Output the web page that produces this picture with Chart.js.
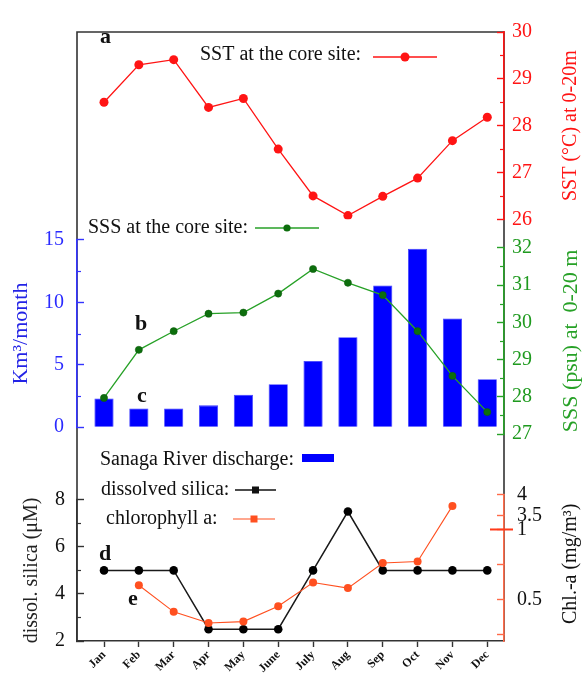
<!DOCTYPE html>
<html>
<head>
<meta charset="utf-8">
<script src="https://cdn.jsdelivr.net/npm/chart.js@4.4.1/dist/chart.umd.min.js"></script>
<style>
  html, body { margin: 0; padding: 0; background: #fff; }
  canvas { display: block; }
</style>
</head>
<body>
<canvas id="chart" width="586" height="677"></canvas>
<script>
// Monthly values at the core site
const months = ['Jan', 'Feb', 'Mar', 'Apr', 'May', 'June', 'July', 'Aug', 'Sep', 'Oct', 'Nov', 'Dec'];
const sstValues = [28.5, 29.3, 29.41, 28.39, 28.58, 27.5, 26.5, 26.08, 26.49, 26.88, 27.68, 28.18];
const sssValues = [27.97, 29.26, 29.76, 30.23, 30.26, 30.77, 31.43, 31.06, 30.73, 29.76, 28.56, 27.59];
const dischargeValues = [2.3, 1.5, 1.5, 1.75, 2.6, 3.45, 5.3, 7.2, 11.35, 14.3, 8.7, 3.85];
const silicaValues = [5, 5, 5, 2.5, 2.5, 2.5, 5, 7.5, 5, 5, 5, 5];
const chlValues = [null, 0.60, 0.41, 0.33, 0.34, 0.45, 0.62, 0.58, 0.76, 0.77, 3.73, null];

// Axis ticks
const sstTicks = [26, 27, 28, 29, 30];
const sssTicks = [27, 28, 29, 30, 31, 32];
const dischargeTicks = [0, 5, 10, 15];
const silicaTicks = [2, 4, 6, 8];
const chlTicks = [0.25, 0.5, 0.75, 1, 3.5, 4];
const chlTickLabels = ['', '0.5', '', '1', '3.5', '4'];

// The Chl-a axis is broken between 1 and 3.5; values above the break are compressed.
function chlToAxis(v) { return v <= 2 ? v : 1.1 + (v - 3.5) * 0.3; }

const SERIF = '"Liberation Serif", "Times New Roman", serif';
const RED = '#ff1414';
const GREEN = '#27a127';
const BLUE = '#3434ff';
const ORANGE = '#ff5020';
const CHL_AXIS = '#ff6a48';
const DARK = '#333';

const pts = (arr, f = v => v) => arr.map((v, i) => (v == null ? null : { x: i, y: f(v) })).filter(Boolean);
const setTicks = list => scale => { scale.ticks = list.map(v => ({ value: v })); };
const leftW = s => { s.width = 77; };
const rightW = s => { s.width = 82; };

function yAxis(opts) {
  const side = opts.position;
  return {
    type: 'linear',
    position: side,
    stack: side,
    stackWeight: opts.stackWeight,
    weight: opts.weight,
    min: opts.min,
    max: opts.max,
    afterFit: side === 'left' ? leftW : rightW,
    afterBuildTicks: opts.ticks ? setTicks(opts.ticks) : undefined,
    border: { display: !!opts.color, color: opts.color, width: 1.6 },
    grid: { display: !!opts.ticks, drawOnChartArea: false, drawTicks: true, tickLength: -7, tickColor: opts.color, tickWidth: 1.4 },
    ticks: {
      display: !!opts.ticks,
      autoSkip: false,
      padding: opts.pad,
      color: opts.labelColor,
      font: { family: SERIF, size: 20 },
      callback: opts.callback || (v => String(v))
    },
    title: opts.title || { display: false }
  };
}

const spacer = (position, stackWeight, weight) => yAxis({ position, stackWeight, weight });

const frame = {
  id: 'frame',
  beforeDraw(chart) {
    const { ctx, chartArea: a } = chart;
    ctx.save();
    ctx.strokeStyle = DARK;
    ctx.lineWidth = 1.6;
    ctx.beginPath();
    ctx.moveTo(a.left, a.bottom);
    ctx.lineTo(a.left, a.top);
    ctx.lineTo(a.right, a.top);
    ctx.lineTo(a.right, a.bottom);
    ctx.stroke();
    ctx.restore();
  }
};

// Short minor ticks halfway between the major ones, pointing into the plot
const minorTicks = {
  id: 'minorTicks',
  afterDraw(chart) {
    const { ctx } = chart;
    const specs = [
      ['ySST', sstTicks, RED, 1],
      ['ySSS', sssTicks, GREEN, 1],
      ['yQ', dischargeTicks, BLUE, -1],
      ['ySi', silicaTicks, DARK, -1]
    ];
    ctx.save();
    ctx.lineWidth = 1.2;
    for (const [id, ticks, color, dir] of specs) {
      const s = chart.scales[id];
      const x0 = dir > 0 ? s.left : s.right;
      ctx.strokeStyle = color;
      for (let i = 0; i < ticks.length - 1; i++) {
        const y = Math.round(s.getPixelForValue((ticks[i] + ticks[i + 1]) / 2)) + 0.5;
        ctx.beginPath();
        ctx.moveTo(x0, y);
        ctx.lineTo(x0 - dir * 4, y);
        ctx.stroke();
      }
    }
    // break mark on the Chl-a axis
    const c = chart.scales.yChl;
    const yb = c.getPixelForValue(1);
    ctx.strokeStyle = '#ff3a1a';
    ctx.lineWidth = 2;
    ctx.beginPath();
    ctx.moveTo(c.left - 14, yb);
    ctx.lineTo(c.left + 9, yb);
    ctx.stroke();
    ctx.restore();
  }
};

// Right-hand axis titles read bottom-to-top
const rightTitles = {
  id: 'rightTitles',
  afterDraw(chart) {
    const { ctx } = chart;
    const items = [
      ['ySST', 'SST (°C) at 0-20m', RED, 20, 0],
      ['ySSS', 'SSS (psu) at  0-20 m', GREEN, 22, 0],
      ['yChl', 'Chl.-a (mg/m³)', '#111', 20, -4]
    ];
    ctx.save();
    for (const [id, text, color, size, dy] of items) {
      const s = chart.scales[id];
      ctx.save();
      ctx.translate(571, (s.top + s.bottom) / 2 + dy);
      ctx.rotate(-Math.PI / 2);
      ctx.font = size + 'px ' + SERIF;
      ctx.fillStyle = color;
      ctx.textAlign = 'center';
      ctx.textBaseline = 'middle';
      ctx.fillText(text, 0, 0);
      ctx.restore();
    }
    ctx.restore();
  }
};

// In-plot legend entries and panel letters
const annotations = {
  id: 'annotations',
  afterDraw(chart) {
    const { ctx } = chart;
    ctx.save();
    ctx.textBaseline = 'alphabetic';
    ctx.textAlign = 'left';
    ctx.font = '20px ' + SERIF;
    ctx.fillStyle = '#111';
    ctx.fillText('SST at the core site:', 200, 60);
    ctx.fillText('SSS at the core site:', 88, 233);
    ctx.fillText('Sanaga River discharge:', 100, 465);
    ctx.fillText('dissolved silica:', 101, 495);
    ctx.fillText('chlorophyll a:', 106, 524);

    const sample = (x1, x2, y, color, width, marker, r, fill) => {
      ctx.strokeStyle = color;
      ctx.lineWidth = width;
      ctx.beginPath();
      ctx.moveTo(x1, y);
      ctx.lineTo(x2, y);
      ctx.stroke();
      ctx.fillStyle = fill || color;
      const xm = (x1 + x2) / 2;
      if (marker === 'circle') {
        ctx.beginPath();
        ctx.arc(xm, y, r, 0, Math.PI * 2);
        ctx.fill();
      } else {
        ctx.fillRect(xm - r, y - r, 2 * r, 2 * r);
      }
    };
    sample(373, 437, 57, RED, 1.4, 'circle', 4.5);
    sample(255, 319, 228, GREEN, 1.4, 'circle', 3.6, '#0d6e0d');
    sample(235, 276, 490, '#111', 1.6, 'rect', 3.5);
    sample(233, 275, 519, ORANGE, 1.2, 'rect', 3.5);
    ctx.fillStyle = '#0000ff';
    ctx.fillRect(302, 454, 32, 8);

    ctx.font = 'bold 22px ' + SERIF;
    ctx.fillStyle = '#111';
    ctx.fillText('a', 100, 43);
    ctx.fillText('b', 135, 330);
    ctx.fillText('c', 137, 402);
    ctx.fillText('d', 99, 560);
    ctx.fillText('e', 128, 605);
    ctx.restore();
  }
};

new Chart(document.getElementById('chart'), {
  type: 'line',
  data: {
    datasets: [
      {
        label: 'SST at the core site',
        data: pts(sstValues),
        yAxisID: 'ySST',
        borderColor: RED,
        backgroundColor: RED,
        borderWidth: 1.3,
        pointRadius: 4.5,
        pointBorderWidth: 0,
        order: 1
      },
      {
        label: 'SSS at the core site',
        data: pts(sssValues),
        yAxisID: 'ySSS',
        borderColor: GREEN,
        backgroundColor: '#0d6e0d',
        pointBorderColor: '#0a5a0a',
        borderWidth: 1.3,
        pointRadius: 3.6,
        pointBorderWidth: 0.5,
        order: 1
      },
      {
        type: 'bar',
        label: 'Sanaga River discharge',
        data: pts(dischargeValues),
        yAxisID: 'yQ',
        backgroundColor: '#0000ff',
        borderColor: '#3a3aff',
        borderWidth: 0.8,
        barPercentage: 0.55,
        categoryPercentage: 1,
        order: 5
      },
      {
        label: 'dissolved silica',
        data: pts(silicaValues),
        yAxisID: 'ySi',
        borderColor: '#1a1a1a',
        backgroundColor: '#000',
        borderWidth: 1.5,
        pointRadius: 4.3,
        pointBorderWidth: 0,
        order: 2
      },
      {
        label: 'chlorophyll a',
        data: pts(chlValues, chlToAxis),
        yAxisID: 'yChl',
        borderColor: ORANGE,
        backgroundColor: ORANGE,
        borderWidth: 1.1,
        pointRadius: 4,
        pointBorderWidth: 0,
        order: 1
      }
    ]
  },
  options: {
    responsive: false,
    animation: false,
    events: [],
    layout: { padding: { top: 20, left: 0, right: 0, bottom: 0 } },
    plugins: { legend: { display: false }, tooltip: { enabled: false } },
    scales: {
      x: {
        type: 'linear',
        position: 'bottom',
        min: -0.775,
        max: 11.48,
        offset: false,
        afterFit: s => { s.height = 36; },
        afterBuildTicks: s => { s.ticks = months.map((m, i) => ({ value: i })); },
        border: { color: DARK, width: 1.6 },
        grid: { display: true, drawOnChartArea: false, offset: false, tickLength: 6, tickColor: DARK, tickWidth: 1.4 },
        ticks: {
          autoSkip: false,
          minRotation: 45,
          maxRotation: 45,
          padding: 1,
          color: '#111',
          font: { family: SERIF, size: 12, weight: 'bold' },
          callback: v => months[Math.round(v)]
        }
      },
      // right column, top to bottom
      ySST: yAxis({ position: 'right', stackWeight: 191, weight: 1, min: 26, max: 30, ticks: sstTicks, color: RED, labelColor: RED, pad: 15 }),
      ySp1: spacer('right', 29, 2),
      ySSS: yAxis({ position: 'right', stackWeight: 190, weight: 3, min: 27, max: 32, ticks: sssTicks, color: GREEN, labelColor: '#1f9a1f', pad: 15 }),
      ySp2: spacer('right', 61.7, 4),
      yChl: yAxis({
        position: 'right', stackWeight: 149.3, weight: 5, min: 0.201, max: 1.25,
        ticks: chlTicks.map(chlToAxis), color: CHL_AXIS, labelColor: '#111', pad: 20,
        callback: (v, i) => chlTickLabels[i]
      }),
      // left column, top to bottom
      ySp3: spacer('left', 212, 4),
      yQ: yAxis({
        position: 'left', stackWeight: 191, weight: 3, min: 0, max: 15, ticks: dischargeTicks,
        color: BLUE, labelColor: '#2a2aff', pad: 20,
        title: { display: true, text: 'Km³/month', color: '#2323e6', font: { family: SERIF, size: 22 }, padding: { top: 8, bottom: 0 } }
      }),
      ySp4: spacer('left', 74, 2),
      ySi: yAxis({
        position: 'left', stackWeight: 144, weight: 1, min: 2, max: 8, ticks: silicaTicks,
        color: DARK, labelColor: '#111', pad: 19,
        title: { display: true, text: 'dissol. silica (μM)', color: '#222', font: { family: SERIF, size: 20 }, padding: { top: 20, bottom: 0 } }
      })
    }
  },
  plugins: [frame, minorTicks, rightTitles, annotations]
});
</script>
</body>
</html>
